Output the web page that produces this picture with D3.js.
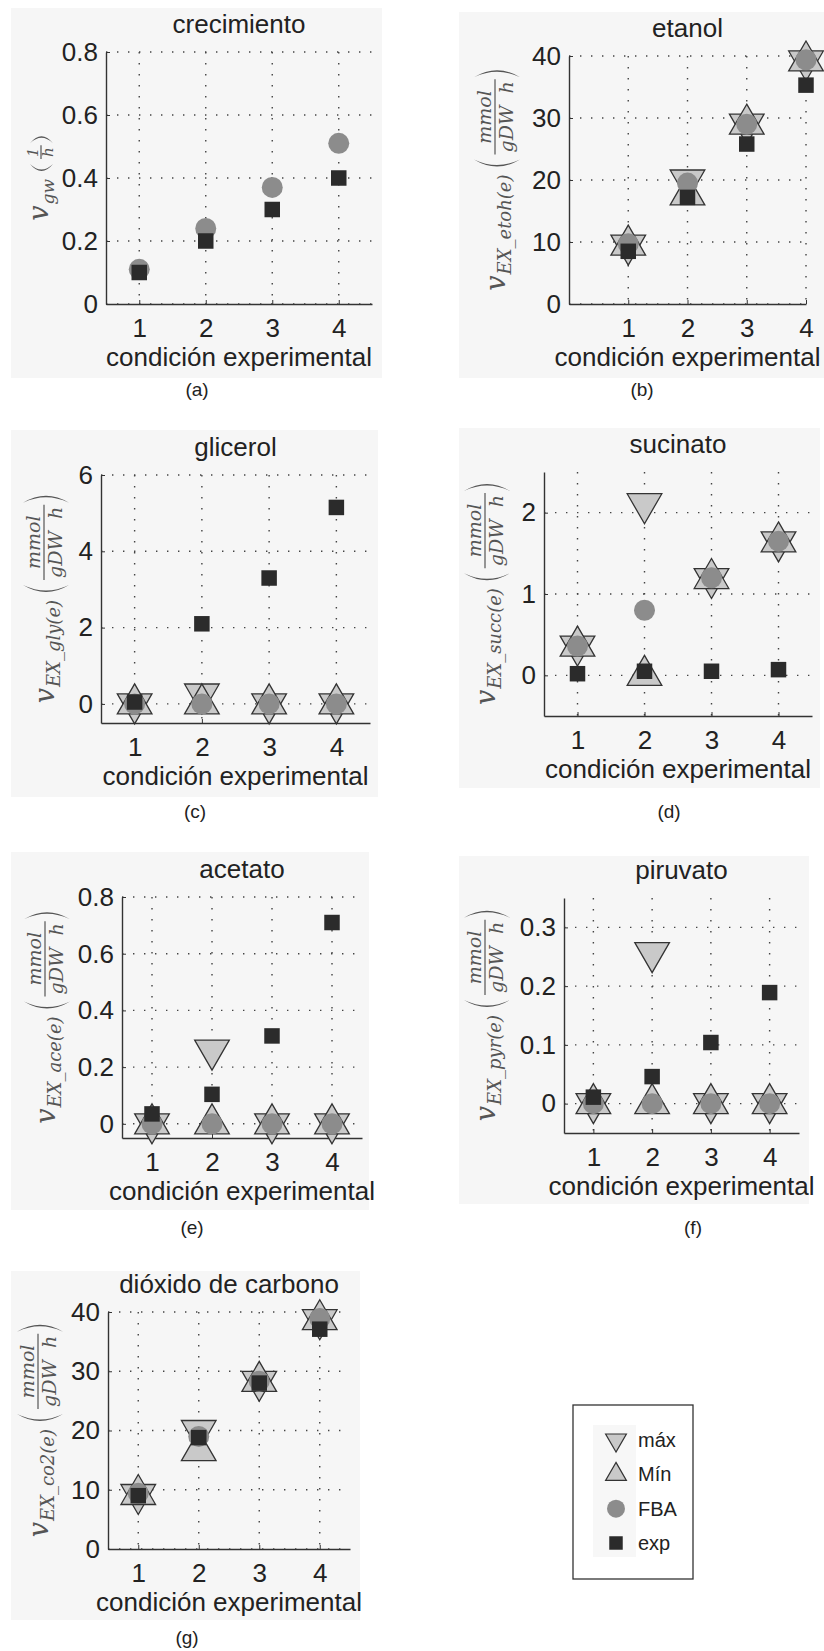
<!DOCTYPE html>
<html>
<head>
<meta charset="utf-8">
<script src="https://cdn.jsdelivr.net/npm/d3@7"></script>
<style>
  body { margin: 0; background: #fff; }
</style>
</head>
<body>
<div id="chart"></div>
<script>
// datos
const conditions = [1, 2, 3, 4];

const crecimientoFBA = [0.11, 0.24, 0.37, 0.51];
const crecimientoExp = [0.10, 0.20, 0.30, 0.40];

const etanolMax = [9.5, 20.0, 29.0, 39.2];
const etanolMin = [9.5, 17.6, 29.0, 39.2];
const etanolFBA = [9.7, 19.5, 29.0, 39.4];
const etanolExp = [8.5, 17.2, 25.8, 35.3];

const glicerolMax = [0, 0.26, 0, 0];
const glicerolMin = [0, 0, 0, 0];
const glicerolFBA = [0, 0, 0, 0];
const glicerolExp = [0.05, 2.1, 3.3, 5.15];

const sucinatoMax = [0.36, 2.11, 1.19, 1.64];
const sucinatoMin = [0.36, 0.0, 1.19, 1.64];
const sucinatoFBA = [0.36, 0.80, 1.20, 1.65];
const sucinatoExp = [0.02, 0.05, 0.05, 0.07];

const acetatoMax = [0, 0.26, 0, 0];
const acetatoMin = [0, 0, 0, 0];
const acetatoFBA = [0, 0, 0, 0];
const acetatoExp = [0.035, 0.104, 0.31, 0.71];

const piruvatoMax = [0, 0.257, 0, 0];
const piruvatoMin = [0, 0, 0, 0];
const piruvatoFBA = [0, 0, 0, 0];
const piruvatoExp = [0.011, 0.046, 0.104, 0.189];

const co2Max = [9.2, 20.0, 28.3, 38.7];
const co2Min = [9.2, 16.6, 28.3, 38.7];
const co2FBA = [9.4, 19.0, 28.3, 38.9];
const co2Exp = [9.0, 18.8, 28.0, 37.1];

const xTicks = [1, 2, 3, 4];
const ticksA = [0, 0.2, 0.4, 0.6, 0.8];
const ticksB = [0, 10, 20, 30, 40];
const ticksC = [0, 2, 4, 6];
const ticksD = [0, 1, 2];
const ticksE = [0, 0.2, 0.4, 0.6, 0.8];
const ticksF = [0, 0.1, 0.2, 0.3];
const ticksG = [0, 10, 20, 30, 40];

const titles = ["crecimiento", "etanol", "glicerol", "sucinato", "acetato", "piruvato", "dióxido de carbono"];
const subscripts = ["gw", "EX_etoh(e)", "EX_gly(e)", "EX_succ(e)", "EX_ace(e)", "EX_pyr(e)", "EX_co2(e)"];
const captions = ["(a)", "(b)", "(c)", "(d)", "(e)", "(f)", "(g)"];
const xLabel = "condición experimental";
const legendLabels = ["máx", "Mín", "FBA", "exp"];

const SANS = "'Liberation Sans', Arial, Helvetica, sans-serif";
const SERIF = "'DejaVu Serif', serif";
const LABEL_GRAY = "#555";

// posiciones de cada panel (px)
const layout = [
  { bg: [11, 8, 382, 378], left: 106, right: 372, top: 52, bottom: 304, xDom: [0.5, 4.5], yDom: [0, 0.8], labelX: 48, cap: [197, 390] },
  { bg: [459, 12, 824, 378], left: 569, right: 806, top: 56, bottom: 304, xDom: [0, 4], yDom: [0, 40], labelX: 505, cap: [642, 390] },
  { bg: [11, 430, 378, 797], left: 101, right: 370, top: 475, bottom: 723, xDom: [0.5, 4.5], yDom: [-0.5, 6], labelX: 54, cap: [195, 812] },
  { bg: [459, 428, 820, 788], left: 544, right: 812, top: 472, bottom: 716, xDom: [0.5, 4.5], yDom: [-0.5, 2.5], labelX: 495, cap: [669, 812] },
  { bg: [11, 852, 369, 1210], left: 122, right: 362, top: 897, bottom: 1138, xDom: [0.5, 4.5], yDom: [-0.05, 0.8], labelX: 55, cap: [192, 1228] },
  { bg: [459, 856, 809, 1204], left: 564, right: 799, top: 898, bottom: 1133, xDom: [0.5, 4.5], yDom: [-0.05, 0.35], labelX: 495, cap: [693, 1228] },
  { bg: [11, 1271, 360, 1620], left: 108, right: 350, top: 1312, bottom: 1549, xDom: [0.5, 4.5], yDom: [0, 40], labelX: 48, cap: [187, 1638] }
];

const series = [
  { max: null, min: null, fba: crecimientoFBA, exp: crecimientoExp, ticks: ticksA },
  { max: etanolMax, min: etanolMin, fba: etanolFBA, exp: etanolExp, ticks: ticksB },
  { max: glicerolMax, min: glicerolMin, fba: glicerolFBA, exp: glicerolExp, ticks: ticksC },
  { max: sucinatoMax, min: sucinatoMin, fba: sucinatoFBA, exp: sucinatoExp, ticks: ticksD },
  { max: acetatoMax, min: acetatoMin, fba: acetatoFBA, exp: acetatoExp, ticks: ticksE },
  { max: piruvatoMax, min: piruvatoMin, fba: piruvatoFBA, exp: piruvatoExp, ticks: ticksF },
  { max: co2Max, min: co2Min, fba: co2FBA, exp: co2Exp, ticks: ticksG }
];

const TRI = 100 * Math.sqrt(3) * 3;   // triangulo de 30px de alto
const CIRC = Math.PI * 10.5 * 10.5;
const SQ = 15.5 * 15.5;
const triFill = "#c9c9c9", fbaFill = "#8c8c8c", expFill = "#2b2b2b";

const svg = d3.select("#chart").append("svg")
    .attr("width", 824)
    .attr("height", 1651)
    .style("background", "#fff");

function paren(g, x, top, bot, w, open) {
  const mid = (top + bot) / 2;
  let d;
  if (open) {
    d = `M${x + w},${top} Q${x - w},${mid} ${x + w},${bot} Q${x - w + 3},${mid} ${x + w},${top} Z`;
  } else {
    d = `M${x},${top} Q${x + 2 * w},${mid} ${x},${bot} Q${x + 2 * w - 3},${mid} ${x},${top} Z`;
  }
  g.append("path").attr("d", d).attr("fill", LABEL_GRAY);
}

function yLabel(p, sub, small) {
  const g = svg.append("g");
  const v = g.append("text").text("v")
      .attr("font-family", SERIF).attr("font-style", "italic")
      .attr("font-size", 27).attr("fill", LABEL_GRAY);
  const vW = v.node().getComputedTextLength();
  const s = g.append("text").text(sub)
      .attr("x", vW + 1).attr("y", 6)
      .attr("font-family", SERIF).attr("font-style", "italic")
      .attr("font-size", small ? 17 : 18).attr("fill", LABEL_GRAY);
  let pos = vW + 1 + s.node().getComputedTextLength() + 8;

  const top = small ? -18 : -31, bot = small ? 5 : 15;
  const fs = small ? 15 : 19;
  const lineY = small ? -7 : -10;
  paren(g, pos, top, bot, 7, true);
  pos += 12;
  const num = g.append("text").text(small ? "1" : "mmol")
      .attr("y", small ? -10 : -14)
      .attr("font-family", SERIF).attr("font-style", "italic")
      .attr("font-size", fs).attr("fill", LABEL_GRAY).attr("text-anchor", "middle");
  const den = g.append("text").text(small ? "h" : "gDW\u00a0\u00a0h")
      .attr("y", small ? 5 : 8)
      .attr("font-family", SERIF).attr("font-style", "italic")
      .attr("font-size", fs).attr("fill", LABEL_GRAY).attr("text-anchor", "middle");
  const fw = Math.max(num.node().getComputedTextLength(), den.node().getComputedTextLength()) + 4;
  num.attr("x", pos + fw / 2);
  den.attr("x", pos + fw / 2);
  g.append("line").attr("x1", pos).attr("x2", pos + fw)
      .attr("y1", lineY).attr("y2", lineY)
      .attr("stroke", LABEL_GRAY).attr("stroke-width", 1.2);
  pos += fw + 2;
  paren(g, pos, top, bot, 7, false);
  pos += 8;
  const cy = (p.top + p.bottom) / 2;
  g.attr("transform", `translate(${p.labelX},${cy}) rotate(-90) translate(${-pos / 2},0)`);
}

function drawPanel(p, s, i) {
  svg.append("rect")
      .attr("x", p.bg[0]).attr("y", p.bg[1])
      .attr("width", p.bg[2] - p.bg[0]).attr("height", p.bg[3] - p.bg[1])
      .attr("fill", "#f6f6f6");

  const x = d3.scaleLinear().domain(p.xDom).range([p.left, p.right]);
  const y = d3.scaleLinear().domain(p.yDom).range([p.bottom, p.top]);

  // rejilla punteada
  const grid = svg.append("g")
      .attr("stroke", "#444").attr("stroke-width", 1.4)
      .attr("stroke-dasharray", "1.4,9.6");
  grid.selectAll(".gx").data(xTicks).enter().append("line")
      .attr("x1", d => x(d)).attr("x2", d => x(d))
      .attr("y1", y(p.yDom[1])).attr("y2", p.bottom);
  grid.selectAll(".gy").data(s.ticks).enter().append("line")
      .attr("x1", p.left).attr("x2", p.right)
      .attr("y1", d => y(d)).attr("y2", d => y(d));

  const ax = svg.append("g")
      .attr("transform", `translate(0,${p.bottom})`)
      .call(d3.axisBottom(x).tickValues(xTicks).tickFormat(d3.format("d"))
          .tickSizeInner(-4).tickSizeOuter(0).tickPadding(15));
  const ay = svg.append("g")
      .attr("transform", `translate(${p.left},0)`)
      .call(d3.axisLeft(y).tickValues(s.ticks).tickFormat(d => String(d))
          .tickSizeInner(-4).tickSizeOuter(0).tickPadding(8));
  [ax, ay].forEach(a => {
    a.attr("font-size", 26).attr("font-family", SANS);
    a.select(".domain").attr("stroke", "#333").attr("stroke-width", 1.4);
    a.selectAll(".tick line").attr("stroke", "#333");
    a.selectAll(".tick text").attr("fill", "#222");
  });

  // titulo y etiquetas
  const cx = (p.left + p.right) / 2;
  svg.append("text").text(titles[i])
      .attr("x", cx).attr("y", y(p.yDom[1]) - 19.5)
      .attr("text-anchor", "middle").attr("font-family", SANS)
      .attr("font-size", 26).attr("fill", "#222");
  svg.append("text").text(xLabel)
      .attr("x", cx).attr("y", p.bottom + 62)
      .attr("text-anchor", "middle").attr("font-family", SANS)
      .attr("font-size", 26).attr("fill", "#222");
  svg.append("text").text(captions[i])
      .attr("x", p.cap[0]).attr("y", p.cap[1] + 6)
      .attr("text-anchor", "middle").attr("font-family", SANS)
      .attr("font-size", 19).attr("fill", "#222");

  yLabel(p, subscripts[i], i === 0);

  // marcadores
  const pts = arr => arr.map((v, k) => [conditions[k], v]);
  const marks = svg.append("g");
  if (s.max) {
    marks.append("g").selectAll("path").data(pts(s.max)).enter().append("path")
        .attr("d", d3.symbol().type(d3.symbolTriangle).size(TRI)())
        .attr("transform", d => `translate(${x(d[0])},${y(d[1])}) rotate(180)`)
        .attr("fill", triFill).attr("stroke", "#333").attr("stroke-width", 1.3);
    marks.append("g").selectAll("path").data(pts(s.min)).enter().append("path")
        .attr("d", d3.symbol().type(d3.symbolTriangle).size(TRI)())
        .attr("transform", d => `translate(${x(d[0])},${y(d[1])})`)
        .attr("fill", triFill).attr("stroke", "#333").attr("stroke-width", 1.3);
  }
  marks.append("g").selectAll("path").data(pts(s.fba)).enter().append("path")
      .attr("d", d3.symbol().type(d3.symbolCircle).size(CIRC)())
      .attr("transform", d => `translate(${x(d[0])},${y(d[1])})`)
      .attr("fill", fbaFill);
  marks.append("g").selectAll("path").data(pts(s.exp)).enter().append("path")
      .attr("d", d3.symbol().type(d3.symbolSquare).size(SQ)())
      .attr("transform", d => `translate(${x(d[0])},${y(d[1])})`)
      .attr("fill", expFill);
}

layout.forEach((p, i) => drawPanel(p, series[i], i));

// leyenda
const leg = svg.append("g");
leg.append("rect").attr("x", 573).attr("y", 1405).attr("width", 120).attr("height", 174)
    .attr("fill", "#fff").attr("stroke", "#333").attr("stroke-width", 1.3);
leg.append("rect").attr("x", 593).attr("y", 1425).attr("width", 43).attr("height", 132)
    .attr("fill", "#f7f7f7");
const legY = d3.scalePoint().domain(legendLabels).range([1440, 1543]);
const legSym = [
  { type: d3.symbolTriangle, size: 187, rot: 180, fill: triFill, stroke: "#333" },
  { type: d3.symbolTriangle, size: 187, rot: 0, fill: triFill, stroke: "#333" },
  { type: d3.symbolCircle, size: 254, rot: 0, fill: fbaFill, stroke: "none" },
  { type: d3.symbolSquare, size: 182, rot: 0, fill: expFill, stroke: "none" }
];
legendLabels.forEach((lab, k) => {
  const m = legSym[k];
  leg.append("path")
      .attr("d", d3.symbol().type(m.type).size(m.size)())
      .attr("transform", `translate(616,${legY(lab)}) rotate(${m.rot})`)
      .attr("fill", m.fill).attr("stroke", m.stroke).attr("stroke-width", 1.2);
  leg.append("text").text(lab)
      .attr("x", 638).attr("y", legY(lab) + 7)
      .attr("font-family", SANS).attr("font-size", 20).attr("fill", "#222");
});
</script>
</body>
</html>
